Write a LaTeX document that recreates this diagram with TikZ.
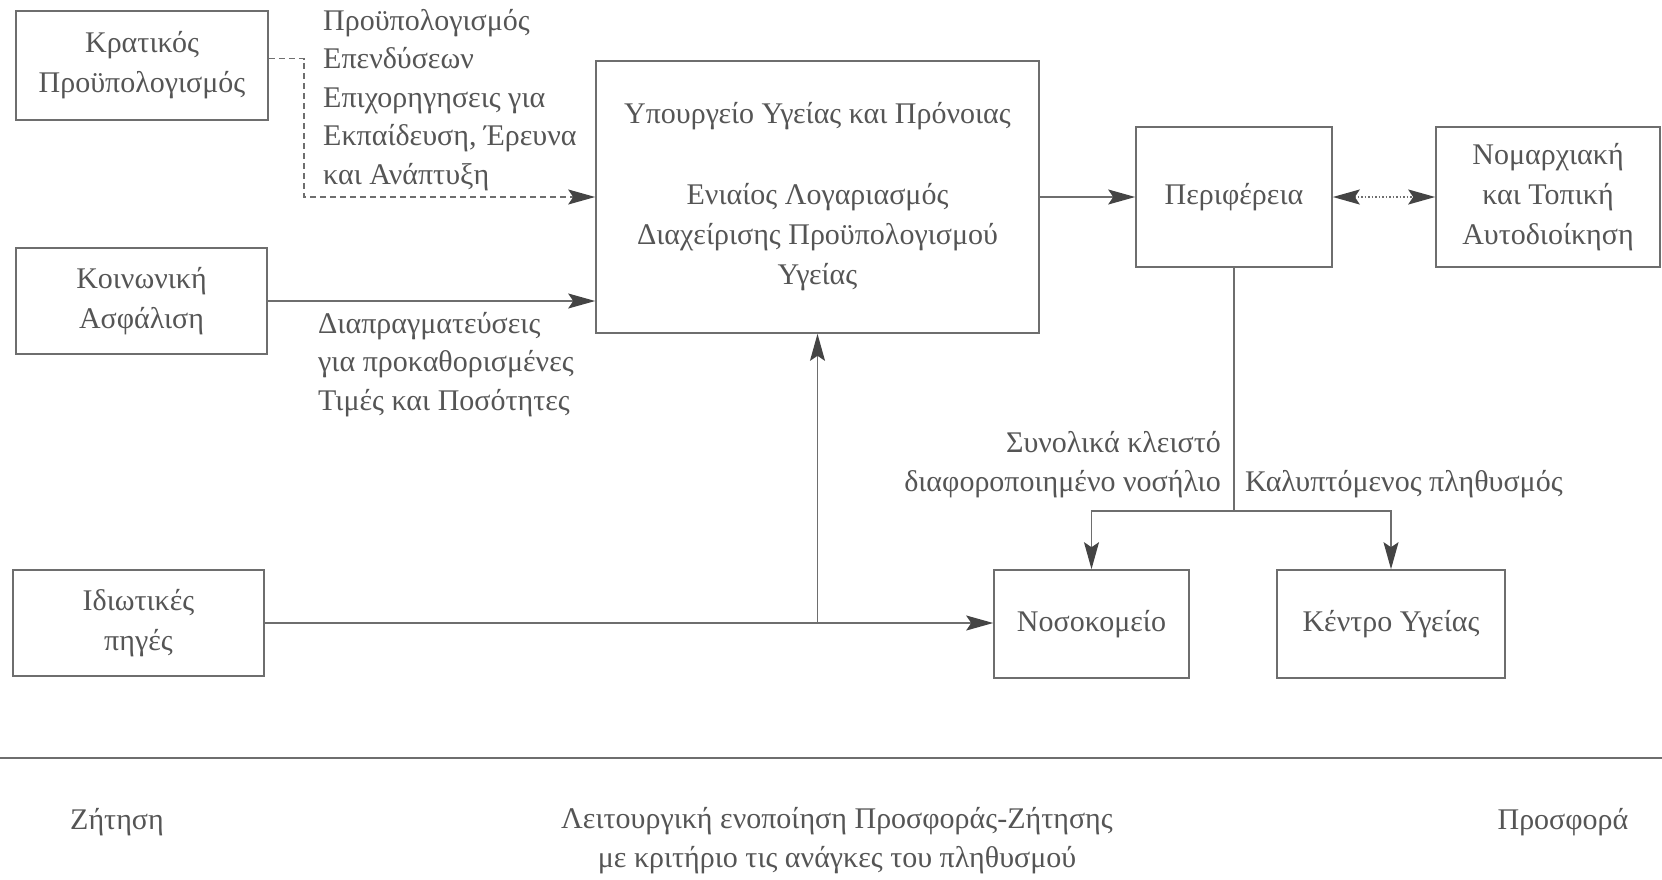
\documentclass[tikz,border=0pt]{standalone}
\usepackage{fontspec}
\setmainfont{Liberation Serif}
\usetikzlibrary{arrows.meta}
\definecolor{ink}{HTML}{555555}
\definecolor{ln}{HTML}{6E6E6E}
\definecolor{tip}{HTML}{444444}
\begin{document}
\begin{tikzpicture}[x=1pt,y=-1pt,
 box/.style={draw=ln, line width=1.6pt, text=ink, align=center, inner sep=0pt,
   font=\fontsize{30}{40}\selectfont},
 lbl/.style={text=ink, inner sep=0pt, font=\fontsize{30}{38.5}\selectfont},
 conn/.style={draw=ln, line width=1.5pt},
 arr/.style={conn, -{Stealth[length=27pt,width=15pt,inset=5pt,color=tip]}},
 dblarr/.style={conn, {Stealth[length=27pt,width=15pt,inset=5pt,color=tip]}-{Stealth[length=27pt,width=15pt,inset=5pt,color=tip]}},
]
\useasboundingbox (0,0) rectangle (1662,879);

% boxes
\node[box, minimum width=252pt, minimum height=109pt] (krat) at (142,65.5) {Κρατικός\\Προϋπολογισμός};
\node[box, minimum width=251pt, minimum height=106pt] (koin) at (141.5,301) {Κοινωνική\\Ασφάλιση};
\node[box, minimum width=251pt, minimum height=106pt] (idio) at (138.5,623) {Ιδιωτικές\\πηγές};
\node[box, minimum width=443pt, minimum height=272pt] (min) at (817.5,197)
  {Υπουργείο Υγείας και Πρόνοιας\\[41pt]Ενιαίος Λογαριασμός\\Διαχείρισης Προϋπολογισμού\\Υγείας};
\node[box, minimum width=196pt, minimum height=140pt] (peri) at (1234,197) {Περιφέρεια};
\node[box, minimum width=224pt, minimum height=140pt] (nom) at (1548,197) {Νομαρχιακή\\και Τοπική\\Αυτοδιοίκηση};
\node[box, minimum width=195pt, minimum height=108pt] (noso) at (1091.5,624) {Νοσοκομείο};
\node[box, minimum width=228pt, minimum height=108pt] (kent) at (1391,624) {Κέντρο Υγείας};

% connectors
\coordinate (kbend) at (304,197);
\draw[arr, dash pattern=on 6pt off 4pt] ([yshift=7pt]krat.east) -| (kbend) -- (min.west);
\draw[arr] (koin.east) -- (koin.east -| min.west);
\draw[arr] (idio.east) -- (idio.east -| noso.west);
\draw[arr] (idio.east -| min.south) -- (min.south);
\draw[arr] (min.east) -- (peri.west);
\draw[dblarr, dotted, line width=2pt] (peri.east) -- (nom.west);
\coordinate (split) at (1234,511);
\draw[conn] (peri.south) -- (split);
\draw[arr] (split) -| (noso.north);
\draw[arr] (split) -| (kent.north);

% labels
\node[lbl, anchor=west, align=left] (l1) at (323,100)
  {Προϋπολογισμός\\Επενδύσεων\\Επιχορηγησεις για\\Εκπαίδευση, Έρευνα\\και Ανάπτυξη};
\node[lbl, anchor=west, align=left] (l2) at (318,364.5)
  {Διαπραγματεύσεις\\για προκαθορισμένες\\Τιμές και Ποσότητες};
\node[lbl, anchor=east, align=right] (l3) at (1221,464.5)
  {Συνολικά κλειστό\\διαφοροποιημένο νοσήλιο};
\node[lbl, anchor=west] (l4) at (1245,484) {Καλυπτόμενος πληθυσμός};

% bottom
\coordinate (bl) at (0,758);
\coordinate (br) at (1662,758);
\draw[conn] (bl) -- (br);
\node[lbl] (z) at (117,822) {Ζήτηση};
\node[lbl, align=center] (c) at (837,840.5) {Λειτουργική ενοποίηση Προσφοράς-Ζήτησης\\με κριτήριο τις ανάγκες του πληθυσμού};
\node[lbl] (p) at (1563,822) {Προσφορά};
\end{tikzpicture}
\end{document}
